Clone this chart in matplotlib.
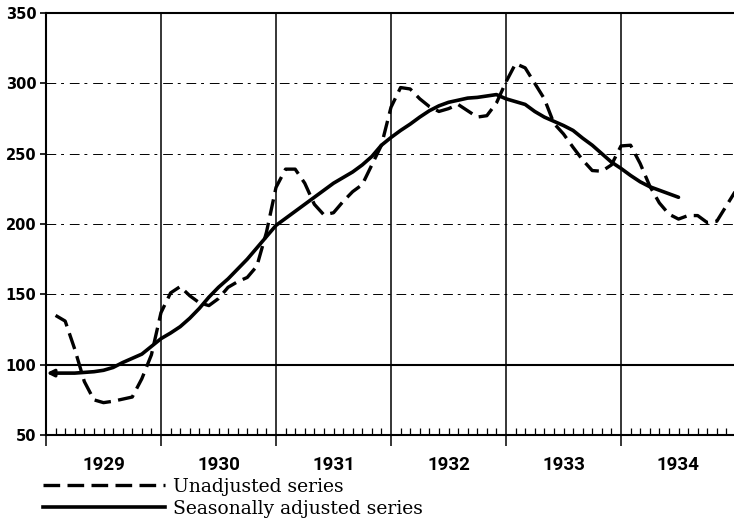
import numpy as np
import matplotlib
matplotlib.use("Agg")
import matplotlib.pyplot as plt
from matplotlib.lines import Line2D
from matplotlib.transforms import blended_transform_factory

# years on the axis and value ticks
years = [1929, 1930, 1931, 1932, 1933, 1934]
y_ticks = [50, 100, 150, 200, 250, 300, 350]
y_grid = [150, 200, 250, 300]

# monthly values, starting Jan 1929
unadjusted = [135, 131, 111, 88, 75, 73, 74, 75.5, 77, 90, 107, 137,
              151, 155.5, 149, 144, 142, 147, 155, 159, 162, 170, 194, 226,
              239, 239, 229, 214, 206.5, 208, 216, 223, 228, 242, 256, 283,
              297, 296, 289, 283.5, 280, 282, 285, 280.5, 276, 277, 286, 301,
              314, 311, 300, 289, 271.5, 264, 254.5, 245.5, 238, 237.5, 242, 255.5,
              256, 243, 227, 215, 207, 203.5, 206, 206, 201, 202, 213, 224]
adjusted = [94, 94, 94, 94.5, 95, 96, 98, 101.5, 104.5, 107.5, 113, 118.5,
            122.5, 127, 133, 140, 148, 155, 161, 168, 175, 183, 191, 199,
            204, 209, 214, 219, 224, 229, 233, 237, 242, 248, 256, 261.5,
            266.5, 271, 276, 280.5, 284, 286.5, 288, 289.5, 290, 291, 292, 289,
            287, 285, 280, 276, 273, 270, 266.5, 261, 256, 250, 244, 239.5,
            234.5, 230, 226.5, 224, 221.5, 219]

t_un = years[0] + (np.arange(len(unadjusted)) + 1) / 12.0
t_adj = years[0] + (np.arange(len(adjusted)) + 1) / 12.0
months = years[0] + np.arange(1, 12 * len(years)) / 12.0

fig = plt.figure(figsize=(7.34, 5.19), dpi=100)
ax = fig.add_axes([46 / 734, 84 / 519, 690 / 734, 422 / 519])
ax.set_xlim(years[0], years[-1] + 1)
ax.set_ylim(y_ticks[0], y_ticks[-1])

# grid: broken lines at most levels, solid at 100 and at year boundaries
for v in y_grid:
    ax.axhline(v, color="k", lw=0.7, ls=(0, (10, 5, 3, 6)), zorder=1)
ax.axhline(100, color="k", lw=1.5, zorder=1)
for yr in years[1:]:
    ax.axvline(yr, color="k", lw=1.1, zorder=1)

ax.plot(t_un, unadjusted, color="k", lw=2.4, dashes=(5, 2.2), zorder=3)
ax.plot(t_adj, adjusted, color="k", lw=2.6, zorder=3, solid_capstyle="round")
ax.annotate("", xy=(years[0] + 0.005, adjusted[0]), xytext=(t_adj[0], adjusted[0]),
            arrowprops=dict(arrowstyle="-|>", color="k", lw=2.4,
                            mutation_scale=10, shrinkA=0, shrinkB=0), zorder=4)

for s in ["left", "top", "bottom"]:
    ax.spines[s].set_linewidth(1.5)
ax.spines["right"].set_visible(False)

ax.set_xticks(years + [years[-1] + 1])
ax.set_xticks(months, minor=True)
ax.tick_params(axis="x", which="major", direction="out", length=8, width=1.1,
               labelbottom=False)
ax.tick_params(axis="x", which="minor", direction="in", length=5, width=0.9)
ax.set_yticks(y_ticks)
ax.set_yticklabels([str(v) for v in y_ticks], fontweight="bold")
ax.tick_params(axis="y", direction="out", length=4, width=1.2, pad=3, labelsize=10.5)

trans = blended_transform_factory(ax.transData, ax.transAxes)
for yr in years:
    ax.text(yr + 0.5, -0.072, str(yr), transform=trans, ha="center", va="center",
            fontsize=13.5, fontweight="bold", family="Roboto")

handles = [Line2D([], [], color="k", lw=2.4, dashes=(5, 2.2)),
           Line2D([], [], color="k", lw=2.6)]
fig.legend(handles, ["Unadjusted series", "Seasonally adjusted series"],
           loc="upper left", bbox_to_anchor=(26 / 734, 1 - 461 / 519),
           frameon=False, handlelength=6.5, handletextpad=0.45, labelspacing=0.2,
           prop={"family": "DejaVu Serif", "size": 13.5})

fig.savefig("out.png", dpi=100)
